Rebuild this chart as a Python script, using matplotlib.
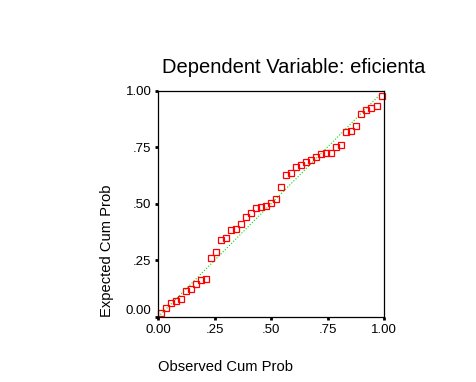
import matplotlib.pyplot as plt
from matplotlib.transforms import ScaledTranslation

plt.rcParams['font.family'] = ['Liberation Sans', 'DejaVu Sans']

# observed vs expected cumulative probabilities
observed = [0.011, 0.033, 0.056, 0.078, 0.100, 0.122, 0.144, 0.167, 0.189, 0.211,
            0.233, 0.256, 0.278, 0.300, 0.322, 0.344, 0.367, 0.389, 0.411, 0.433,
            0.456, 0.478, 0.500, 0.522, 0.544, 0.567, 0.589, 0.611, 0.633, 0.656,
            0.678, 0.700, 0.722, 0.744, 0.767, 0.789, 0.811, 0.833, 0.856, 0.878,
            0.900, 0.922, 0.944, 0.967, 0.989]
expected = [0.016, 0.037, 0.059, 0.069, 0.077, 0.112, 0.121, 0.143, 0.161, 0.165,
            0.258, 0.285, 0.337, 0.347, 0.382, 0.387, 0.409, 0.440, 0.458, 0.480,
            0.484, 0.490, 0.502, 0.519, 0.573, 0.626, 0.635, 0.661, 0.670, 0.683,
            0.692, 0.705, 0.719, 0.724, 0.724, 0.750, 0.758, 0.817, 0.822, 0.842,
            0.896, 0.915, 0.923, 0.932, 0.977]

ticks = [0, 0.25, 0.5, 0.75, 1.0]
tick_labels = ['0.00', '.25', '.50', '.75', '1.00']

fig = plt.figure(figsize=(4.77, 3.82), dpi=100)
ax = fig.add_axes([0.332, 0.171, 0.473, 0.592])

ax.plot([0, 1], [0, 1], color='#00dd00', linestyle=':', linewidth=0.8, zorder=1)
ax.plot(observed, expected, linestyle='none', marker='s', markersize=3.8,
        markerfacecolor='none', markeredgecolor='red', markeredgewidth=0.9,
        clip_on=False, zorder=2)

ax.set_xlim(0, 1)
ax.set_ylim(0, 1)
ax.set_xticks(ticks)
ax.set_xticklabels(tick_labels)
ax.set_yticks(ticks)
ax.set_yticklabels(tick_labels)
ax.tick_params(direction='out', length=2, width=2, labelsize=9.5, pad=3)

# SPSS nudges the bottom y label up a little
lab0 = ax.get_yticklabels()[0]
lab0.set_transform(lab0.get_transform() + ScaledTranslation(0, 5 / 72, fig.dpi_scale_trans))

for s in ax.spines.values():
    s.set_linewidth(0.9)

fig.text(0.616, 0.81, 'Dependent Variable: eficienta', ha='center',
         va='baseline', fontsize=14.5)
fig.text(0.331, 0.029, 'Observed Cum Prob', ha='left', va='baseline', fontsize=10.6)
fig.text(0.224, 0.17, 'Expected Cum Prob', ha='center', va='bottom',
         rotation=90, fontsize=10.6)

fig.savefig('out.png', dpi=100)
